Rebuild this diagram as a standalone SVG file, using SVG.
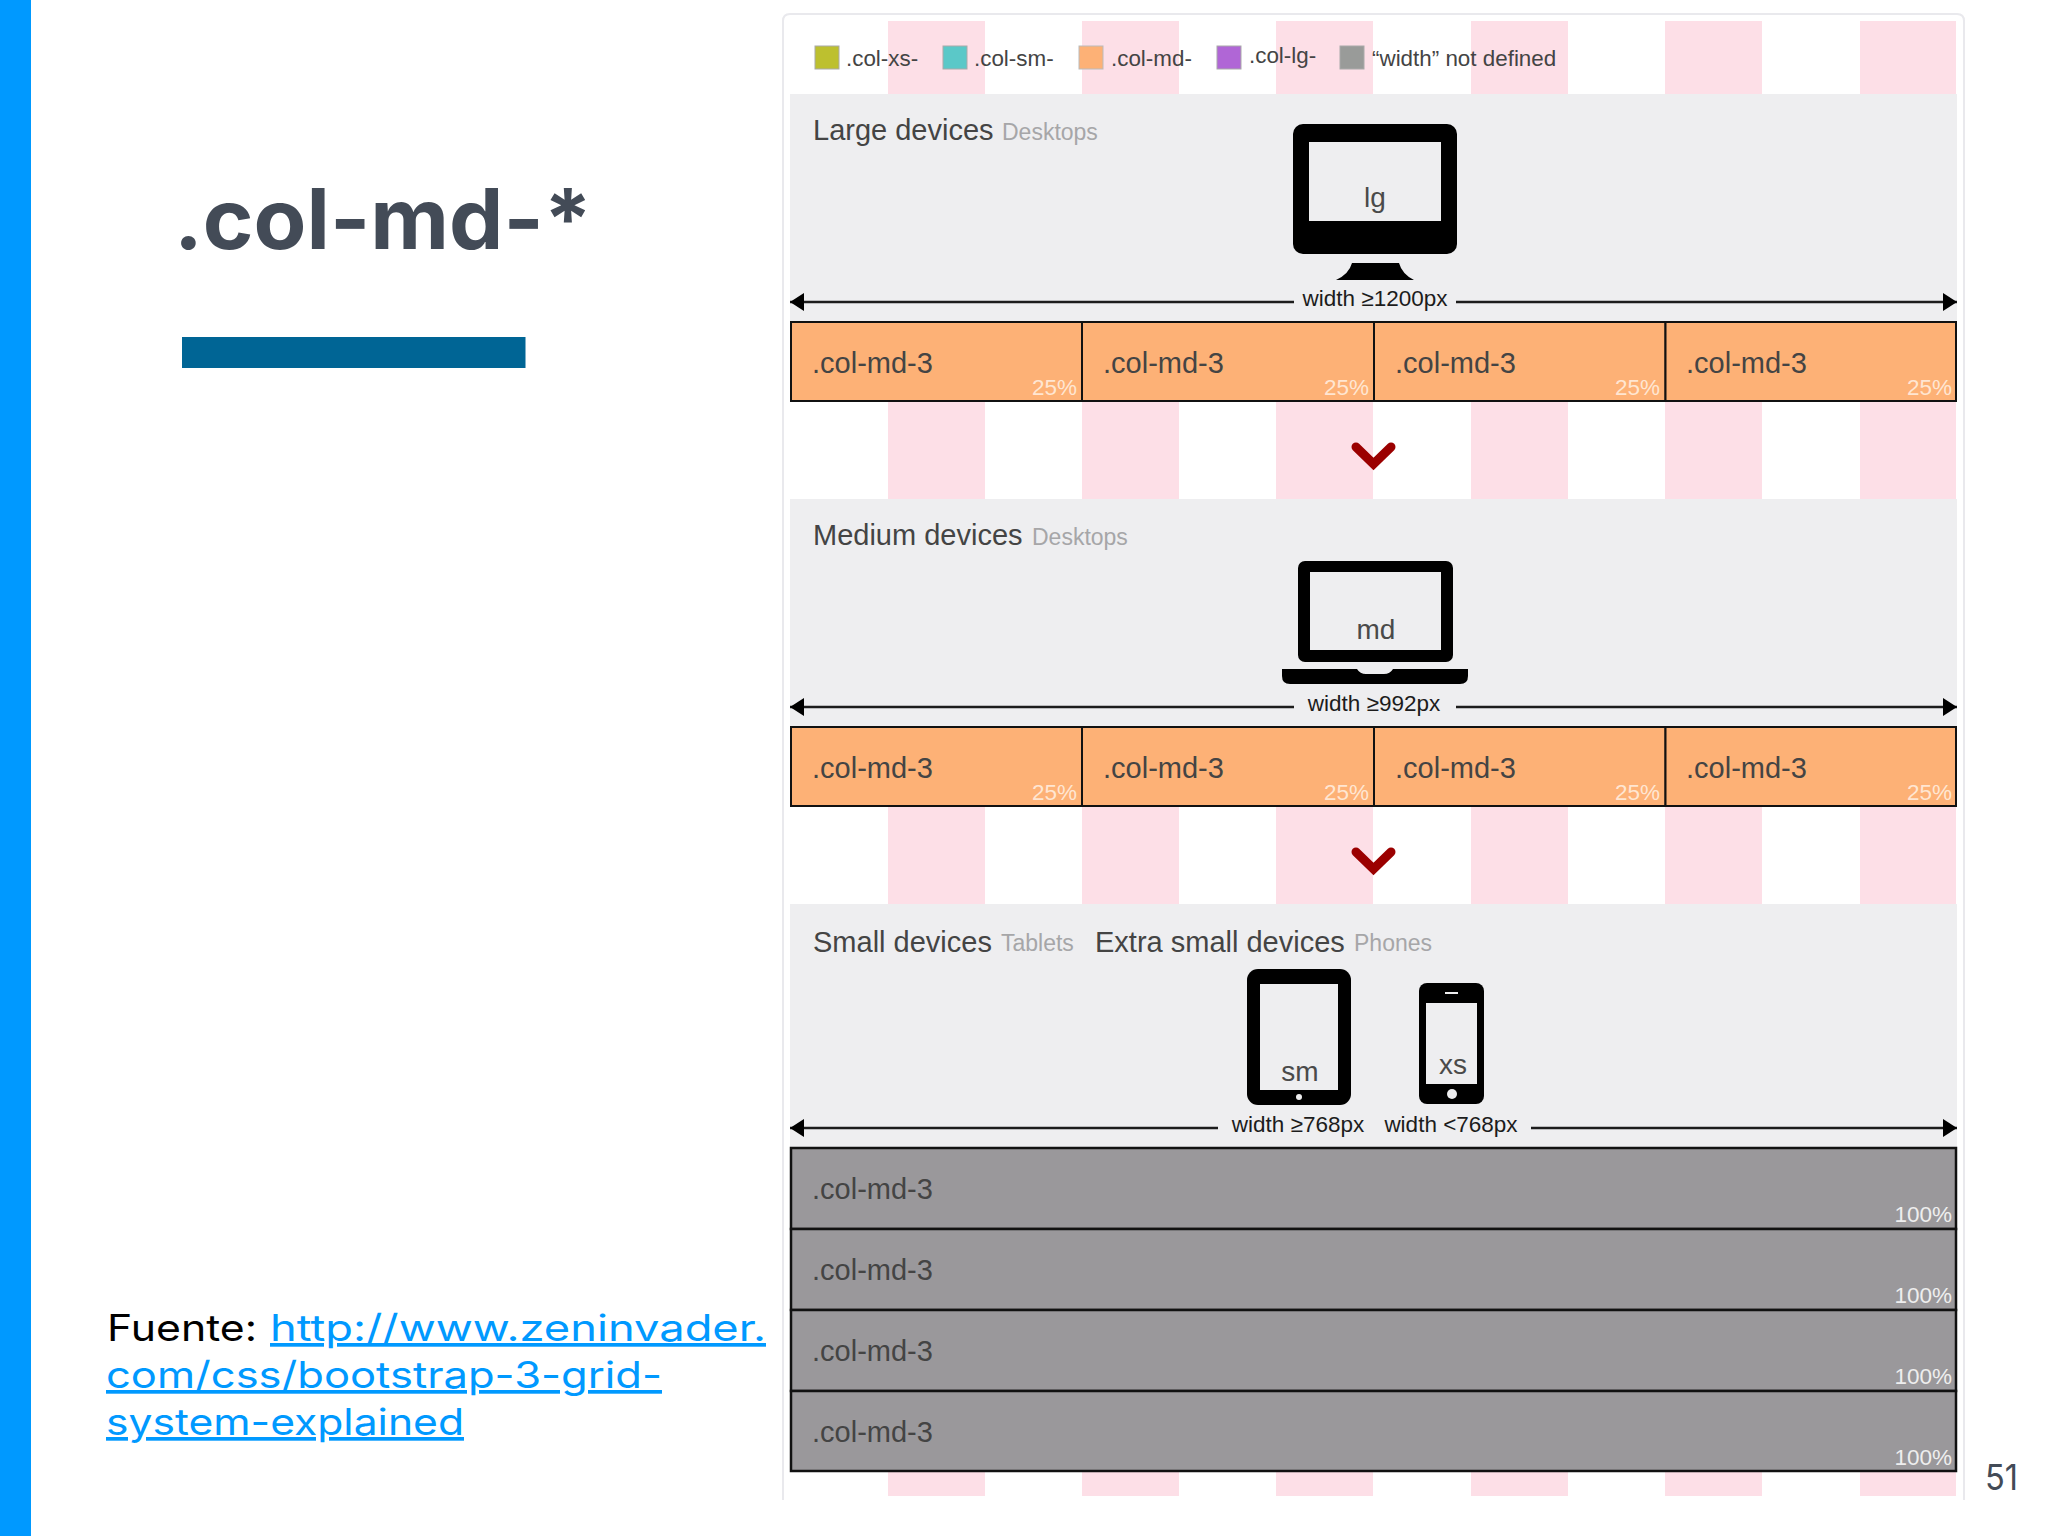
<svg xmlns="http://www.w3.org/2000/svg" width="2048" height="1536" viewBox="0 0 2048 1536">
<style>
text{font-family:"Liberation Sans",Arial,sans-serif}
.stripe{fill:#fddfe7}
.panel{fill:#eeeef0}
.cell{fill:#fdb176;stroke:#111;stroke-width:2}
.row{fill:#9a989b;stroke:#111;stroke-width:2.5}
.cn{font-size:29px;fill:#444}
.pc{font-size:22.5px;fill:#ffe6d2;text-anchor:end}
.pg{font-size:22.5px;fill:#eeeeee;text-anchor:end}
.h{font-size:29px;fill:#444}
.s{font-size:23px;fill:#a6a6a8}
.lg{font-size:22.4px;fill:#444}
.w{font-size:22.5px;fill:#1c1c1c;text-anchor:middle}
.dev{font-size:28px;fill:#4a4a4a;text-anchor:middle}
.ink{fill:#000}
.scr{fill:#eeeef0}
.arrow{stroke:#1c1c1c;stroke-width:2.5;fill:none}
.chev{fill:none;stroke:#9b0000;stroke-width:9;stroke-linecap:round}
.brand{font-family:Inter,"Liberation Sans",sans-serif}
.src{font-family:Inter,"Liberation Sans",sans-serif;font-size:37px}
.lnk{fill:#0099ff;text-decoration:underline}
</style>
<defs>
<marker id="ah" markerUnits="userSpaceOnUse" markerWidth="16" markerHeight="20" refX="14" refY="9" orient="auto-start-reverse"><path d="M0 0L14 9L0 18Z" fill="#000"/></marker>
<g id="stripes-row">
<rect class="stripe" x="888" y="0" width="97" height="1"/>
<rect class="stripe" x="1082" y="0" width="97" height="1"/>
<rect class="stripe" x="1276" y="0" width="97" height="1"/>
<rect class="stripe" x="1471" y="0" width="97" height="1"/>
<rect class="stripe" x="1665" y="0" width="97" height="1"/>
<rect class="stripe" x="1860" y="0" width="96" height="1"/>
</g>
</defs>
<rect width="2048" height="1536" fill="#fff"/>
<rect id="sidebar" x="0" y="0" width="31" height="1536" fill="#0099ff"/>
<g id="title">
<text class="brand" x="174" y="249" font-size="84" font-weight="700" fill="#434b57" textLength="418" lengthAdjust="spacingAndGlyphs">.col-md-*</text>
<rect x="182" y="337" width="343.500" height="31" fill="#006595"/>
</g>
<g id="source">
<text class="src" x="107" y="1341" fill="#000" textLength="150" lengthAdjust="spacingAndGlyphs">Fuente:</text>
<text class="src lnk" x="270" y="1341" textLength="496" lengthAdjust="spacingAndGlyphs">http://www.zeninvader.</text>
<text class="src lnk" x="106" y="1388" textLength="556" lengthAdjust="spacingAndGlyphs">com/css/bootstrap-3-grid-</text>
<text class="src lnk" x="106" y="1435" textLength="358" lengthAdjust="spacingAndGlyphs">system-explained</text>
</g>
<text id="page-number" class="brand" x="1985" y="1490" font-size="36" fill="#434b57" textLength="33" lengthAdjust="spacingAndGlyphs">51</text>
<path id="frame" d="M783 1500V21Q783 14 790 14H1957Q1964 14 1964 21V1500" fill="none" stroke="#e9e9ed" stroke-width="2"/>
<g id="stripes">
<use href="#stripes-row" transform="translate(0,21) scale(1,73)"/>
<use href="#stripes-row" transform="translate(0,401) scale(1,98)"/>
<use href="#stripes-row" transform="translate(0,806) scale(1,98)"/>
<use href="#stripes-row" transform="translate(0,1471) scale(1,25)"/>
</g>
<g id="legend">
<rect x="815" y="46" width="24" height="23" fill="#bdc02f" stroke="#aaa"/><text class="lg" x="846" y="66">.col-xs-</text>
<rect x="943" y="46" width="24" height="23" fill="#5bc8c8" stroke="#aaa"/><text class="lg" x="974" y="66">.col-sm-</text>
<rect x="1079" y="46" width="24" height="23" fill="#fdb176" stroke="#bbb"/><text class="lg" x="1111" y="66">.col-md-</text>
<rect x="1217" y="46" width="24" height="23" fill="#b066d6" stroke="#aaa"/><text class="lg" x="1249" y="63">.col-lg-</text>
<rect x="1340" y="46" width="24" height="23" fill="#999b99" stroke="#aaa"/><text class="lg" x="1372" y="66">“width” not defined</text>
</g>
<g id="panel-large">
<rect class="panel" x="790" y="94" width="1167" height="228"/>
<text class="h" x="813" y="140">Large devices</text><text class="s" x="1002" y="140">Desktops</text>
<g id="monitor">
<rect class="ink" x="1293" y="124" width="164" height="130" rx="10"/>
<rect class="scr" x="1309" y="142" width="132" height="79"/>
<path class="ink" d="M1352 263H1399Q1402 274 1414 280H1336Q1349 274 1352 263Z"/>
<text class="dev" x="1375" y="207">lg</text>
</g>
<text class="w" x="1375" y="306">width ≥1200px</text>
</g>
<g id="row-large">
<rect class="cell" x="791" y="322" width="291" height="79"/><rect class="cell" x="1082" y="322" width="292" height="79"/><rect class="cell" x="1374" y="322" width="291.500" height="79"/><rect class="cell" x="1665.500" y="322" width="290.500" height="79"/>
<text class="cn" x="812" y="373">.col-md-3</text><text class="cn" x="1103" y="373">.col-md-3</text><text class="cn" x="1395" y="373">.col-md-3</text><text class="cn" x="1686" y="373">.col-md-3</text>
<text class="pc" x="1077" y="395">25%</text><text class="pc" x="1369" y="395">25%</text><text class="pc" x="1660" y="395">25%</text><text class="pc" x="1952" y="395">25%</text>
</g>
<path id="chevron-1" class="chev" d="M1356 447L1373.500 464L1391 447"/>
<g id="panel-medium">
<rect class="panel" x="790" y="499" width="1167" height="228"/>
<text class="h" x="813" y="545">Medium devices</text><text class="s" x="1032" y="545">Desktops</text>
<g id="laptop">
<rect class="ink" x="1298" y="561" width="155" height="101" rx="7"/>
<rect class="scr" x="1310" y="572" width="131" height="78"/>
<path class="ink" d="M1282 669H1357Q1360 674 1366 674H1384Q1390 674 1393 669H1468V676Q1468 684 1460 684H1290Q1282 684 1282 676Z"/>
<text class="dev" x="1376" y="639">md</text>
</g>
<text class="w" x="1374" y="711">width ≥992px</text>
</g>
<g id="row-medium">
<rect class="cell" x="791" y="727" width="291" height="79"/><rect class="cell" x="1082" y="727" width="292" height="79"/><rect class="cell" x="1374" y="727" width="291.500" height="79"/><rect class="cell" x="1665.500" y="727" width="290.500" height="79"/>
<text class="cn" x="812" y="778">.col-md-3</text><text class="cn" x="1103" y="778">.col-md-3</text><text class="cn" x="1395" y="778">.col-md-3</text><text class="cn" x="1686" y="778">.col-md-3</text>
<text class="pc" x="1077" y="800">25%</text><text class="pc" x="1369" y="800">25%</text><text class="pc" x="1660" y="800">25%</text><text class="pc" x="1952" y="800">25%</text>
</g>
<path id="chevron-2" class="chev" d="M1356 852L1373.500 869L1391 852"/>
<g id="panel-small">
<rect class="panel" x="790" y="904" width="1167" height="244"/>
<text class="h" x="813" y="952">Small devices</text><text class="s" x="1001" y="951">Tablets</text>
<text class="h" x="1095" y="952">Extra small devices</text><text class="s" x="1354" y="951">Phones</text>
<g id="tablet">
<rect class="ink" x="1247" y="969" width="104" height="136" rx="11"/>
<rect class="scr" x="1260" y="984" width="78" height="106"/>
<circle class="scr" cx="1299" cy="1097" r="3"/>
<text class="dev" x="1300" y="1081">sm</text>
</g>
<g id="phone">
<rect class="ink" x="1419" y="983" width="65" height="121" rx="8"/>
<rect class="scr" x="1426" y="1003" width="51" height="81"/>
<rect class="scr" x="1445" y="992" width="13" height="2"/>
<circle class="scr" cx="1452" cy="1094" r="5"/>
<text class="dev" x="1453" y="1074">xs</text>
</g>
<text class="w" x="1298" y="1132">width ≥768px</text>
<text class="w" x="1451" y="1132">width &lt;768px</text>
</g>
<g id="rows-small">
<rect class="row" x="791" y="1148" width="1165" height="81"/>
<rect class="row" x="791" y="1229" width="1165" height="81"/>
<rect class="row" x="791" y="1310" width="1165" height="81"/>
<rect class="row" x="791" y="1391" width="1165" height="80"/>
<text class="cn" x="812" y="1199">.col-md-3</text><text class="cn" x="812" y="1280">.col-md-3</text><text class="cn" x="812" y="1361">.col-md-3</text><text class="cn" x="812" y="1442">.col-md-3</text>
<text class="pg" x="1952" y="1222">100%</text><text class="pg" x="1952" y="1303">100%</text><text class="pg" x="1952" y="1384">100%</text><text class="pg" x="1952" y="1465">100%</text>
</g>
<g id="connectors">
<path class="arrow" marker-start="url(#ah)" d="M790 302H1294"/>
<path class="arrow" marker-end="url(#ah)" d="M1456 302H1957"/>
<path class="arrow" marker-start="url(#ah)" d="M790 707H1294"/>
<path class="arrow" marker-end="url(#ah)" d="M1456 707H1957"/>
<path class="arrow" marker-start="url(#ah)" d="M790 1128H1218"/>
<path class="arrow" marker-end="url(#ah)" d="M1531 1128H1957"/>
</g>
</svg>
